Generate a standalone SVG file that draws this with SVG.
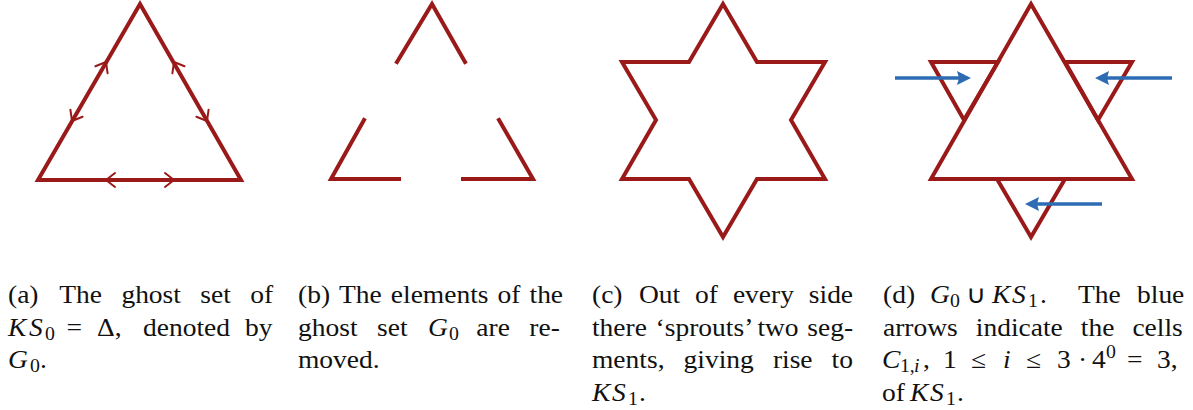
<svg xmlns="http://www.w3.org/2000/svg" width="1193" height="410" viewBox="0 0 1193 410">
<style>
.r{fill:none;stroke:#9a1a1a;stroke-width:4;stroke-linejoin:miter;stroke-linecap:square}
.t{fill:none;stroke:#9a1a1a;stroke-width:2;stroke-linecap:round;stroke-linejoin:round}
.b{stroke:#2d6cb3;stroke-width:3.5;fill:none}
.bh{fill:#2d6cb3}
text{font-family:"Liberation Serif","Times New Roman",serif;font-size:25px;fill:#111}
.i{font-style:italic}
.s{font-size:18px}
</style>
<rect width="1193" height="410" fill="#fff"/>
<g id="panel-a">
<polygon class="r" points="140,4 38,180 241,180"/>
<path class="t" d="M95.4,66.3 L106,62 L107.6,73.3 M70.4,109.7 L72,121 L82.6,116.7 M184.5,66.3 L174,62 L172.4,73.3 M208.6,109.7 L207,121 L196.4,116.7 M115,173 L106,180 L115,187 M165,173 L174,180 L165,187"/>
</g>
<g id="panel-b">
<polyline class="r" points="397,62 432,4 465,62"/>
<polyline class="r" points="364,120 331,179 399,179"/>
<polyline class="r" points="463,179 533,179 499,120"/>
</g>
<g id="panel-c">
<polygon class="r" points="723,4 757,62 825,62 791,120 825,179 757,179 723,237 689,179 622,179 656,120 622,62 689,62"/>
</g>
<g id="panel-d">
<polygon class="r" points="1031,4 931,179 1132,179"/>
<polygon class="r" points="931,62 998,62 964,120"/>
<polygon class="r" points="1065,62 1132,62 1098,120"/>
<polygon class="r" points="997,179 1065,179 1031,237"/>
</g>
<g id="arrows">
<line class="b" x1="895" y1="78" x2="960" y2="78"/>
<polygon class="bh" points="971,78 957,71 959,78 957,85"/>
<line class="b" x1="1172" y1="78" x2="1106" y2="78"/>
<polygon class="bh" points="1095,78 1109,71 1107,78 1109,85"/>
<line class="b" x1="1102" y1="204" x2="1036" y2="204"/>
<polygon class="bh" points="1025,204 1039,197 1037,204 1039,211"/>
</g>
<g id="caption-a" transform="scale(1.1,1)">
<text y="303"><tspan x="7.27">(a)</tspan><tspan x="53.91">The</tspan><tspan x="110.36">ghost</tspan><tspan x="182.09">set</tspan><tspan x="227.45">of</tspan></text>
<text y="336"><tspan x="7.27" class="i">K</tspan><tspan x="26.36" class="i">S</tspan><tspan x="40.91" y="340" class="s">0</tspan><tspan x="60.5" y="336">=</tspan><tspan x="88.18">Δ,</tspan><tspan x="130">denoted</tspan><tspan x="222.73">by</tspan></text>
<text y="368"><tspan x="7.27" class="i">G</tspan><tspan x="27.27" y="372" class="s">0</tspan><tspan x="36.36" y="368">.</tspan></text>
</g>
<g id="caption-b" transform="scale(1.1,1)">
<text y="303"><tspan x="270.91">(b)</tspan><tspan x="308.18">The</tspan><tspan x="355.27">elements</tspan><tspan x="452.36">of</tspan><tspan x="481.36">the</tspan></text>
<text y="336"><tspan x="270.91">ghost</tspan><tspan x="342.73">set</tspan><tspan x="389.09" class="i">G</tspan><tspan x="408.18" y="340" class="s">0</tspan><tspan x="433" y="336">are</tspan><tspan x="481.18">re-</tspan></text>
<text y="368"><tspan x="270.91">moved.</tspan></text>
</g>
<g id="caption-c" transform="scale(1.1,1)">
<text y="303"><tspan x="538.18">(c)</tspan><tspan x="580.91">Out</tspan><tspan x="631.91">of</tspan><tspan x="666.27">every</tspan><tspan x="735.27">side</tspan></text>
<text y="336"><tspan x="538.18">there</tspan><tspan x="596">‘sprouts’</tspan><tspan x="688.55">two</tspan><tspan x="733.86">seg-</tspan></text>
<text y="368"><tspan x="538.18">ments,</tspan><tspan x="621.45">giving</tspan><tspan x="702.64">rise</tspan><tspan x="756">to</tspan></text>
<text y="401"><tspan x="538.18" class="i">K</tspan><tspan x="556.36" class="i">S</tspan><tspan x="570.91" y="405" class="s">1</tspan><tspan x="580.91" y="401">.</tspan></text>
</g>
<g id="caption-d" transform="scale(1.1,1)">
<text y="303"><tspan x="802.73">(d)</tspan><tspan x="845.45" class="i">G</tspan><tspan x="863.64" y="307" class="s">0</tspan><tspan x="878.18" y="303">∪</tspan><tspan x="901.82" class="i">K</tspan><tspan x="920" class="i">S</tspan><tspan x="934.55" y="307" class="s">1</tspan><tspan x="945.45" y="303">.</tspan><tspan x="980">The</tspan><tspan x="1033.64">blue</tspan></text>
<text y="336"><tspan x="802.73">arrows</tspan><tspan x="887.09">indicate</tspan><tspan x="982.55">the</tspan><tspan x="1029.45">cells</tspan></text>
<text y="368"><tspan x="801.82" class="i">C</tspan><tspan x="818.18" y="372" class="s">1,</tspan><tspan x="830.91" y="372" class="s i">i</tspan><tspan x="839.09" y="368">,</tspan><tspan x="857.27">1</tspan><tspan x="882.73">≤</tspan><tspan x="911.82" class="i">i</tspan><tspan x="932.73">≤</tspan><tspan x="960.91">3</tspan><tspan x="980">·</tspan><tspan x="992.73">4</tspan><tspan x="1005.45" y="358" class="s">0</tspan><tspan x="1024.55" y="368">=</tspan><tspan x="1051.82">3,</tspan></text>
<text y="401"><tspan x="801.82">of</tspan><tspan x="827.27" class="i">K</tspan><tspan x="845.45" class="i">S</tspan><tspan x="860" y="405" class="s">1</tspan><tspan x="870" y="401">.</tspan></text>
</g>
</svg>
